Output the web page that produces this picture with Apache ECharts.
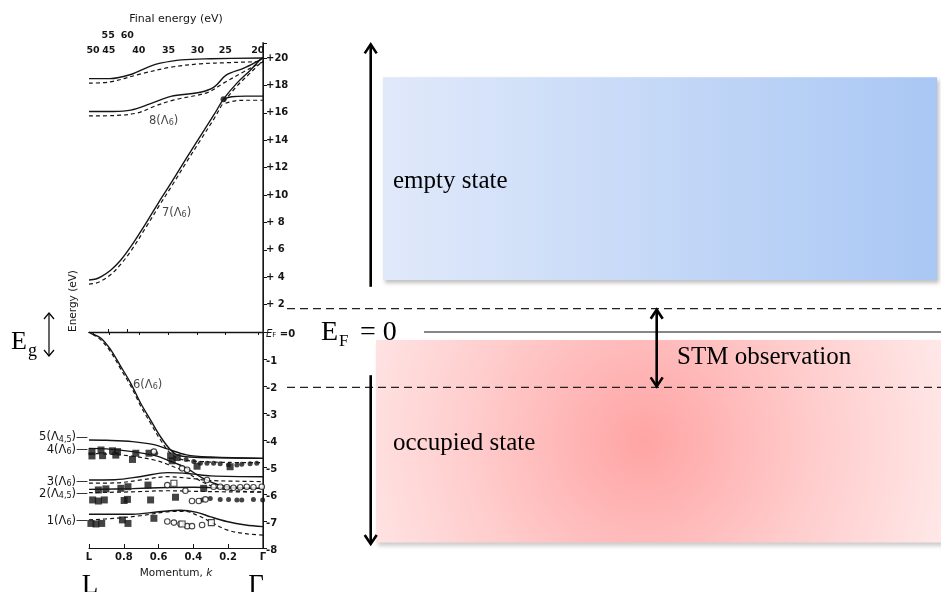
<!DOCTYPE html>
<html><head><meta charset="utf-8">
<script src="https://cdn.jsdelivr.net/npm/echarts@6/dist/echarts.min.js"></script>
<style>html,body{margin:0;padding:0;background:#fff;}#c{width:941px;height:592px;}</style>
</head><body><div id="c"></div>
<script>
// ---------- data (momentum k: 1 = L, 0 = Γ ; energy in eV) ----------
const momentumTicks = ['L','0.8','0.6','0.4','0.2','Γ'];
const finalEnergyLabels = ['50','45','40','35','30','25','20'];
const finalEnergyK = [0.977,0.886,0.714,0.543,0.377,0.217,0.03];
const finalEnergyHiLabels = ['55','60'];
const finalEnergyHiK = [0.89,0.78];
const bandLabelNum = ['5','4','3','2','1'];
const bandLabelSub = ['4,5','6','6','4,5','6'];
const bandLabelE = [-3.85,-4.3,-5.5,-5.93,-6.93];
const inPlotLabels = [['8','6',0.571,15.5],['7','6',0.497,8.77],['6','6',0.663,-1.89]];

const bandTopSolid = [[1,18.5],[0.88,18.5],[0.76,18.8],[0.65,19.4],[0.59,19.63],[0.47,19.87],[0.3,19.95],[0,20.0]];
const bandTopDashed = [[1,18.17],[0.88,18.26],[0.7,18.85],[0.53,19.33],[0.36,19.58],[0.19,19.67],[0.02,19.74],[0,19.76]];
const band8Solid = [[1,16.1],[0.86,16.1],[0.76,16.2],[0.65,16.65],[0.53,17.2],[0.36,17.5],[0.28,17.9],[0.21,18.77],[0.11,19.27],[0.036,19.74],[0,20.0]];
const band8Dashed = [[1,15.78],[0.86,15.8],[0.72,16.0],[0.62,16.5],[0.51,16.95],[0.32,17.48],[0.227,18.17],[0.11,19.0],[0.017,19.63],[0,19.7]];
const band7Solid = [[1,3.8],[0.96,3.87],[0.93,4.04],[0.874,4.53],[0.817,5.26],[0.76,6.23],[0.665,8.1],[0.6,9.45],[0.52,11.05],[0.44,12.7],[0.36,14.3],[0.28,15.9],[0.227,17.0],[0.15,18.17],[0.074,19.1],[0.017,19.87],[0,20.05]];
const band7Dashed = [[1,3.5],[0.96,3.57],[0.93,3.72],[0.874,4.2],[0.817,4.95],[0.76,5.9],[0.665,7.8],[0.6,9.15],[0.52,10.75],[0.44,12.4],[0.36,14.0],[0.28,15.6],[0.227,16.75],[0.15,17.95],[0.074,18.9],[0.017,19.6],[0,19.75]];
const band7BranchSolid = [[0.227,17.0],[0.18,17.18],[0.1,17.22],[0,17.22]];
const band7BranchDashed = [[0.215,16.7],[0.16,16.88],[0.08,16.92],[0,16.92]];
const crossingPoint = [[0.227,17.0]];

const band6Solid = [[1,0],[0.989,-0.05],[0.931,-0.23],[0.874,-0.67],[0.817,-1.28],[0.76,-1.9],[0.703,-2.64],[0.646,-3.26],[0.589,-3.88],[0.531,-4.37],[0.49,-4.56],[0.42,-4.63],[0.25,-4.66],[0,-4.68]];
const band6Dashed = [[0.98,-0.08],[0.931,-0.3],[0.874,-0.75],[0.817,-1.38],[0.76,-2.0],[0.703,-2.74],[0.646,-3.38],[0.589,-4.0],[0.531,-4.5],[0.47,-4.72],[0.35,-4.8],[0.2,-4.83],[0,-4.84]];
const band5Solid = [[1,-4.0],[0.9,-4.01],[0.75,-4.06],[0.62,-4.18],[0.55,-4.33],[0.44,-4.55],[0.3,-4.63],[0,-4.68]];
const band4Solid = [[1,-4.31],[0.9,-4.33],[0.75,-4.43],[0.62,-4.58],[0.55,-4.74],[0.44,-5.04],[0.35,-5.4],[0.25,-5.67],[0.12,-5.77],[0,-5.79]];
const band4Dashed = [[1,-4.5],[0.9,-4.52],[0.75,-4.6],[0.62,-4.75],[0.55,-4.9],[0.44,-5.2],[0.35,-5.55],[0.25,-5.8],[0.12,-5.9],[0,-5.92]];
const band3Solid = [[1,-5.48],[0.85,-5.47],[0.7,-5.35],[0.55,-5.21],[0.42,-5.25],[0.3,-5.33],[0,-5.36]];
const band3Dashed = [[1,-5.6],[0.85,-5.59],[0.7,-5.48],[0.55,-5.36],[0.42,-5.42],[0.3,-5.5],[0,-5.54]];
const band2Solid = [[1,-5.83],[0.75,-5.8],[0.55,-5.76],[0.4,-5.75],[0.2,-5.78],[0,-5.79]];
const band2Dashed = [[1,-5.95],[0.75,-5.92],[0.55,-5.88],[0.4,-5.9],[0.2,-5.92],[0,-5.93]];
const band1Solid = [[1,-6.75],[0.75,-6.75],[0.6,-6.66],[0.474,-6.6],[0.38,-6.68],[0.3,-6.85],[0.208,-7.02],[0.1,-7.15],[0,-7.21]];
const band1Dashed = [[1,-6.96],[0.85,-6.9],[0.7,-6.8],[0.55,-6.66],[0.45,-6.64],[0.38,-6.78],[0.322,-6.96],[0.208,-7.33],[0.1,-7.47],[0,-7.52]];

const filledSquares = [[0.983,-4.43],[0.983,-4.59],[0.931,-4.37],[0.922,-4.58],[0.865,-4.4],[0.846,-4.56],[0.836,-4.43],[0.731,-4.49],[0.75,-4.72],[0.655,-4.49],[0.531,-4.59],[0.522,-4.77],[0.493,-4.65],[0.379,-4.97],[0.189,-4.99],
 [0.946,-5.85],[0.903,-5.81],[0.817,-5.79],[0.776,-5.73],[0.661,-5.67],[0.341,-5.79],
 [0.979,-6.22],[0.946,-6.26],[0.912,-6.22],[0.798,-6.24],[0.779,-6.2],[0.646,-6.22],[0.503,-6.12],
 [0.989,-7.09],[0.96,-7.11],[0.927,-7.09],[0.808,-6.96],[0.776,-7.09],[0.627,-6.9]];
const filledCircles = [[0.617,-4.49],[0.442,-4.72],[0.398,-4.8],[0.36,-4.86],[0.322,-4.86],[0.284,-4.86],[0.246,-4.88],[0.198,-4.93],[0.15,-4.93],[0.122,-4.9],[0.074,-4.88],[0.036,-4.86],
 [0.35,-6.22],[0.303,-6.17],[0.246,-6.2],[0.198,-6.2],[0.15,-6.22],[0.122,-6.22],[0.055,-6.2],[0.002,-6.22]];
const openCircles = [[0.627,-4.43],[0.465,-5.05],[0.436,-5.1],[0.322,-5.48],[0.55,-5.67],[0.446,-5.88],[0.284,-5.73],[0.246,-5.73],[0.208,-5.75],[0.17,-5.77],[0.131,-5.75],[0.093,-5.73],[0.055,-5.75],[0.007,-5.73],
 [0.408,-6.26],[0.369,-6.26],[0.331,-6.2],[0.55,-7.02],[0.512,-7.06],[0.474,-7.11],[0.436,-7.19],[0.408,-7.19],[0.35,-7.15]];
const openSquares = [[0.512,-5.6],[0.465,-7.11],[0.297,-7.06]];

// schematic energy levels (eV)
const stmWindow = [1.7, -2.05];
const emptyBand = [18.6, 3.8];
const occupiedBand = [-0.3, -7.8];
const emptyArrow = [3.3, 21.0];
const occupiedArrow = [-1.6, -7.85];

// ---------- chart ----------
const SANS = 'DejaVu Sans';
const SERIF = 'Liberation Serif';
const INK = '#151515';
const chart = echarts.init(document.getElementById('c'));

function band(data, dashed, lower, name) {
  return {
    name: name, type: 'line', data: data, xAxisIndex: lower ? 3 : 0, yAxisIndex: lower ? 2 : 0,
    symbol: 'none', smooth: 0.35, silent: true, z: 3,
    lineStyle: {color: INK, width: dashed ? 1.2 : 1.4, type: dashed ? [4, 3] : 'solid'}
  };
}
function pts(data, symbol, size, filled) {
  return {
    type: 'scatter', data: data, xAxisIndex: 3, yAxisIndex: 2, symbol: symbol, symbolSize: size, silent: true, z: 4,
    itemStyle: filled ? {color: INK} : {color: '#fff', borderColor: INK, borderWidth: 1.1}
  };
}
const subRich = {
  n: {fontFamily: SANS, fontSize: 11.5, color: INK, lineHeight: 15, verticalAlign: 'bottom'},
  s: {fontFamily: SANS, fontSize: 8, color: INK, lineHeight: 10, verticalAlign: 'bottom'},
  d: {fontFamily: SANS, fontSize: 12, color: INK, lineHeight: 15, verticalAlign: 'bottom'}
};
const labelSeries = inPlotLabels.map(function (l) {
  return {
    type: 'scatter', xAxisIndex: l[3] < 0 ? 3 : 0, yAxisIndex: l[3] < 0 ? 2 : 0, symbolSize: 1, silent: true,
    itemStyle: {color: 'rgba(0,0,0,0)'},
    data: [[l[2], l[3]]],
    label: {show: true, position: 'inside', formatter: '{n|' + l[0] + '(Λ}{s|' + l[1] + '}{n|)}', rich: subRich}
  };
});
const tickFont = {fontFamily: SANS, fontSize: 10, fontWeight: 'bold', color: INK};

const option = {
  animation: false,
  backgroundColor: '#fff',
  grid: [
    {left: 89, top: 43, width: 174, height: 289, outerBoundsMode: 'none', containLabel: false},
    {left: 89, top: 332, width: 174, height: 216, outerBoundsMode: 'none', containLabel: false}
  ],
  xAxis: [
    {gridIndex: 0, type: 'value', min: 0, max: 1, inverse: true, position: 'bottom',
     axisLine: {show: true, onZero: false, lineStyle: {color: INK, width: 1}}, axisTick: {show: false}, axisLabel: {show: false}, splitLine: {show: false}},
    {gridIndex: 0, type: 'value', min: 0, max: 1, inverse: true, position: 'top',
     axisLine: {show: true, lineStyle: {color: INK, width: 1.3}},
     axisTick: {show: true, inside: true, length: 3, customValues: finalEnergyK, lineStyle: {color: INK}},
     axisLabel: Object.assign({inside: true, margin: 3, customValues: finalEnergyK,
       formatter: function (v) { return finalEnergyLabels[finalEnergyK.indexOf(v)] || ''; }}, tickFont, {fontSize: 9.5}),
     splitLine: {show: false},
     name: 'Final energy (eV)', nameLocation: 'middle', nameGap: 18,
     nameTextStyle: {fontFamily: SANS, fontSize: 11, color: INK}},
    {gridIndex: 0, type: 'value', min: 0, max: 1, inverse: true, position: 'top',
     axisLine: {show: false}, axisTick: {show: true, length: 3, customValues: finalEnergyHiK, lineStyle: {color: INK}},
     axisLabel: Object.assign({margin: 2, customValues: finalEnergyHiK,
       formatter: function (v) { return finalEnergyHiLabels[finalEnergyHiK.indexOf(v)] || ''; }}, tickFont, {fontSize: 9.5}),
     splitLine: {show: false}},
    {gridIndex: 1, type: 'value', min: 0, max: 1, interval: 0.2, inverse: true, position: 'bottom',
     axisLine: {show: true, onZero: false, lineStyle: {color: INK, width: 1.2}},
     axisTick: {show: true, inside: true, length: 4, lineStyle: {color: INK}},
     axisLabel: Object.assign({margin: 4,
       formatter: function (v) { return momentumTicks[Math.round((1 - v) / 0.2)]; }}, tickFont),
     splitLine: {show: false},
     name: '{n|Momentum, }{k|k}', nameLocation: 'middle', nameGap: 20,
     nameTextStyle: {rich: {n: {fontFamily: SANS, fontSize: 10.5, color: INK}, k: {fontFamily: SANS, fontSize: 10.5, fontStyle: 'italic', color: INK}}}},
    {gridIndex: 1, type: 'value', min: 0, max: 1, inverse: true, position: 'bottom',
     axisLine: {show: false}, axisTick: {show: false}, splitLine: {show: false},
     axisLabel: {margin: 24, customValues: [1, 0], fontFamily: SERIF, fontSize: 27, color: '#000',
       formatter: function (v) { return v === 1 ? '{a|L}' : '{b|Γ}'; },
       rich: {a: {fontFamily: SERIF, fontSize: 27, color: '#000', padding: [0, 0, 0, 2]},
              b: {fontFamily: SERIF, fontSize: 27, color: '#000', padding: [0, 14, 0, 0]}}}}
  ],
  yAxis: [
    {gridIndex: 0, type: 'value', min: 0, max: 21.1, interval: 2, position: 'right',
     axisLine: {show: true, lineStyle: {color: '#6a6a6a', width: 2}},
     axisTick: {show: true, length: 4, lineStyle: {color: INK}},
     axisLabel: Object.assign({margin: 3, showMaxLabel: false,
       formatter: function (v) { return v === 0 ? '' : (v < 10 ? '+ ' + v : '+' + v); }}, tickFont),
     splitLine: {show: false}},
    {gridIndex: 0, type: 'value', min: 0, max: 21.1, interval: 2, position: 'left',
     axisLine: {show: true, lineStyle: {color: INK, width: 1}},
     axisTick: {show: true, inside: true, length: 4, lineStyle: {color: INK}},
     axisLabel: {show: false}, splitLine: {show: false}},
    {gridIndex: 1, type: 'value', min: -8, max: 0, interval: 1, position: 'right',
     axisLine: {show: true, lineStyle: {color: '#6a6a6a', width: 2}},
     axisTick: {show: true, length: 4, lineStyle: {color: INK}},
     axisLabel: {margin: 3,
       formatter: function (v) { return v === 0 ? '{i|E}{s|F}{n| =0}' : '{n|-' + Math.abs(v) + '}'; },
       rich: {i: {fontFamily: SANS, fontSize: 10, fontStyle: 'italic', color: INK, lineHeight: 14, verticalAlign: 'bottom'},
              s: {fontFamily: SANS, fontSize: 7, color: INK, lineHeight: 9, verticalAlign: 'bottom'},
              n: {fontFamily: SANS, fontSize: 10, fontWeight: 'bold', color: INK, lineHeight: 14, verticalAlign: 'bottom'}}},
     splitLine: {show: false}},
    {gridIndex: 1, type: 'value', min: -8, max: 0, interval: 1, position: 'left',
     axisLine: {show: true, lineStyle: {color: INK, width: 1}},
     axisTick: {show: true, inside: true, length: 4, lineStyle: {color: INK}},
     axisLabel: {show: false}, splitLine: {show: false}},
    {gridIndex: 1, type: 'value', min: -8, max: 0, position: 'left',
     axisLine: {show: false}, axisTick: {show: false}, splitLine: {show: false},
     axisLabel: {margin: 1, customValues: bandLabelE,
       formatter: function (v) { const i = bandLabelE.indexOf(v); return '{n|' + bandLabelNum[i] + '(Λ}{s|' + bandLabelSub[i] + '}{n|)}{d|—}'; },
       rich: subRich}}
  ],
  series: [
    band(bandTopSolid, false, false), band(bandTopDashed, true, false),
    band(band8Solid, false, false), band(band8Dashed, true, false),
    band(band7Solid, false, false), band(band7Dashed, true, false),
    band(band7BranchSolid, false, false), band(band7BranchDashed, true, false),
    {type: 'scatter', data: crossingPoint, xAxisIndex: 0, yAxisIndex: 0, symbolSize: 6, silent: true, itemStyle: {color: INK}},
    band(band6Solid, false, true), band(band6Dashed, true, true),
    band(band5Solid, false, true),
    band(band4Solid, false, true), band(band4Dashed, true, true),
    band(band3Solid, false, true), band(band3Dashed, true, true),
    band(band2Solid, false, true), band(band2Dashed, true, true),
    band(band1Solid, false, true), band(band1Dashed, true, true),
    pts(filledSquares, 'rect', 7, true),
    pts(filledCircles, 'circle', 5, true),
    pts(openCircles, 'circle', 5.5, false),
    pts(openSquares, 'rect', 6, false)
  ].concat(labelSeries)
};
chart.setOption(option);

// ---------- schematic on the right (vertical positions from the energy axes) ----------
function yE(v) { return v >= 0 ? chart.convertToPixel({yAxisIndex: 0}, v) : chart.convertToPixel({yAxisIndex: 2}, v); }
function vArrow(x, y1, y2, heads) {
  const out = [{type: 'line', shape: {x1: x, y1: y1, x2: x, y2: y2}, style: {stroke: '#000', lineWidth: 2.6}, z: 20}];
  heads.forEach(function (h) {
    const y = h === 'up' ? Math.min(y1, y2) : Math.max(y1, y2);
    const d = h === 'up' ? 1 : -1;
    out.push({type: 'polyline', shape: {points: [[x - 6, y + d * 9], [x, y], [x + 6, y + d * 9]]},
      style: {stroke: '#000', lineWidth: 2.6, fill: null, lineJoin: 'miter'}, z: 20});
  });
  return out;
}
function txt(x, y, s, size, extra) {
  return Object.assign({type: 'text', x: x, y: y, z: 25,
    style: {text: s, fill: '#000', font: size + 'px "' + SERIF + '"', textVerticalAlign: 'middle', verticalAlign: 'middle'}}, extra || {});
}
const eT = yE(emptyBand[0]), eB = yE(emptyBand[1]);
const oT = yE(occupiedBand[0]), oB = yE(occupiedBand[1]);
const dUp = yE(stmWindow[0]), dLo = yE(stmWindow[1]), ef = yE(0);
let els = [
  {type: 'rect', z: 5, shape: {x: 383, y: eT, width: 554, height: eB - eT},
   style: {fill: new echarts.graphic.LinearGradient(0, 0, 1, 0, [{offset: 0, color: '#e0e9fa'}, {offset: 1, color: '#a9c7f4'}]),
     shadowBlur: 4, shadowOffsetX: 2, shadowOffsetY: 3, shadowColor: 'rgba(0,0,0,0.25)'}},
  {type: 'rect', z: 5, shape: {x: 376, y: oT, width: 570, height: oB - oT},
   style: {fill: new echarts.graphic.RadialGradient(0.47, 0.5, 1.7, [{offset: 0, color: '#ffa4a4'}, {offset: 0.5, color: '#ffcccc'}, {offset: 1, color: '#ffeeee'}]),
     shadowBlur: 4, shadowOffsetX: 2, shadowOffsetY: 3, shadowColor: 'rgba(0,0,0,0.2)'}},
  {type: 'line', z: 15, shape: {x1: 287, y1: dUp, x2: 941, y2: dUp}, style: {stroke: '#222', lineWidth: 1.2, lineDash: [8, 5]}},
  {type: 'line', z: 15, shape: {x1: 287, y1: dLo, x2: 941, y2: dLo}, style: {stroke: '#222', lineWidth: 1.2, lineDash: [8, 5]}},
  {type: 'line', z: 15, shape: {x1: 424, y1: ef, x2: 941, y2: ef}, style: {stroke: '#111', lineWidth: 1.1}},
  txt(393, (eT + eB) / 2 + 3, 'empty state', 25),
  txt(393, yE(-4.0) + 3, 'occupied state', 25),
  txt(677, (ef + dLo) / 2 - 2, 'STM observation', 25),
  txt(321, ef + 1, 'E', 28),
  txt(339, ef + 10, 'F', 17),
  txt(360, ef + 1, '= 0', 28),
  txt(11, 342, 'E', 26),
  txt(28, 351, 'g', 18),
  {type: 'text', x: 73, y: 301, rotation: Math.PI / 2, z: 25,
   style: {text: 'Energy (eV)', fill: INK, font: '10.5px "' + SANS + '"', align: 'center', verticalAlign: 'middle'}}
];
els = els.concat(vArrow(370.7, yE(emptyArrow[0]), yE(emptyArrow[1]), ['up']));
els = els.concat(vArrow(370.7, yE(occupiedArrow[0]), yE(occupiedArrow[1]), ['down']));
els = els.concat(vArrow(656.7, dUp + 1, dLo - 1, ['up', 'down']));
els.push({type: 'line', shape: {x1: 49, y1: 313, x2: 49, y2: 356}, style: {stroke: '#000', lineWidth: 1.2}, z: 20});
els.push({type: 'polyline', shape: {points: [[44, 319], [49, 313], [54, 319]]}, style: {stroke: '#000', lineWidth: 1.2, fill: null}, z: 20});
els.push({type: 'polyline', shape: {points: [[44, 350], [49, 356], [54, 350]]}, style: {stroke: '#000', lineWidth: 1.2, fill: null}, z: 20});
chart.setOption({graphic: {elements: els}});
</script>
</body></html>
